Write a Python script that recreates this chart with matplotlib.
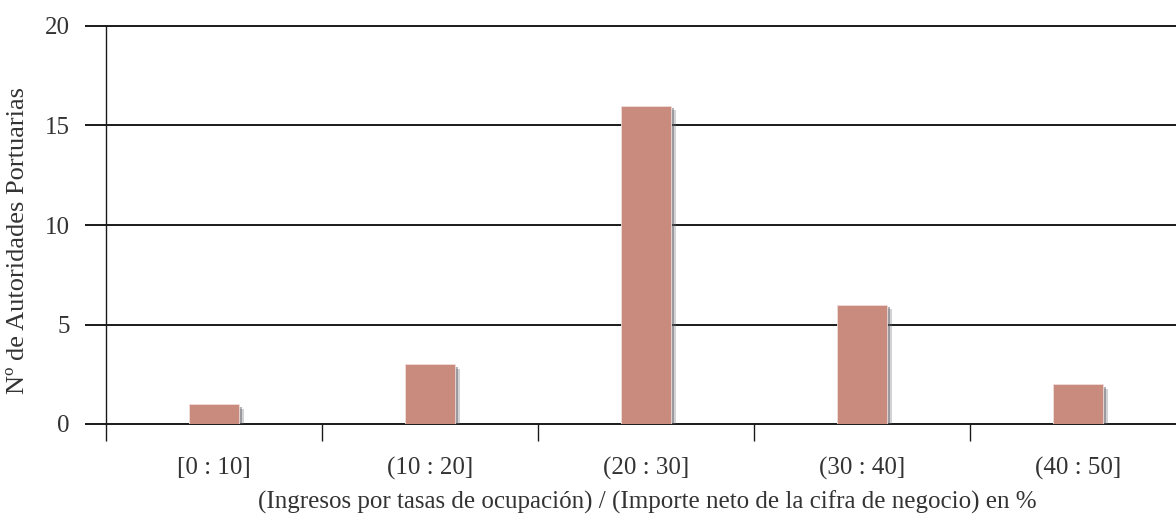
import matplotlib
matplotlib.use("Agg")
import matplotlib.pyplot as plt
import matplotlib.patheffects as pe
from matplotlib.ticker import FixedLocator

plt.rcParams['font.family'] = ['Liberation Serif', 'DejaVu Serif']

# datos del histograma
categorias = ['[0 : 10]', '(10 : 20]', '(20 : 30]', '(30 : 40]', '(40 : 50]']
valores = [1, 3, 16, 6, 2]

fig = plt.figure(figsize=(11.76, 5.25), dpi=100)
# el eje sigue un poco mas alla del borde derecho, como en el original
ax = fig.add_axes([106 / 1176, 101 / 525, 1080 / 1176, 398 / 525])

pos = list(range(len(categorias)))
bars = ax.bar(pos, valores, width=0.23, color='#C98B7E', zorder=3,
              edgecolor='#F2DDD8', linewidth=0.6)
for b in bars:
    b.set_path_effects([pe.SimplePatchShadow(offset=(3.5, -3.5), shadow_rgbFace='#6a6d73', alpha=0.3),
                        pe.SimplePatchShadow(offset=(2, -2), shadow_rgbFace='#55585e', alpha=0.45),
                        pe.Normal()])

ax.set_xlim(-0.5, 4.5)
ax.set_ylim(0, 20)
ax.set_yticks([0, 5, 10, 15, 20])
ax.yaxis.grid(True, color='#1a1a1a', linewidth=1.4, zorder=1)
ax.set_axisbelow(True)
for ln in ax.get_ygridlines():
    ln.set_clip_on(False)

ax.set_xticks(pos)
ax.set_xticklabels(categorias, fontsize=18, color='#333333')
ax.xaxis.set_minor_locator(FixedLocator([-0.5, 0.5, 1.5, 2.5, 3.5]))
ax.tick_params(axis='x', which='major', length=0, pad=24)
ax.tick_params(axis='x', which='minor', length=12, width=1, color='#1a1a1a')
ax.tick_params(axis='y', length=15, width=1.4, color='#1a1a1a', labelsize=18,
               labelcolor='#333333', pad=11)

for s in ['top', 'right', 'bottom']:
    ax.spines[s].set_visible(False)
ax.spines['left'].set_color('#1a1a1a')
ax.spines['left'].set_linewidth(1)

ax.set_ylabel('Nº de Autoridades Portuarias', fontsize=19, color='#333333')
ax.yaxis.set_label_coords(-0.071, 0.46)
ax.set_xlabel('(Ingresos por tasas de ocupación) / (Importe neto de la cifra de negocio) en %',
              fontsize=18, color='#333333')
ax.xaxis.set_label_coords((647 - 106) / 1080, -0.167)

fig.savefig('out.png', dpi=100)
